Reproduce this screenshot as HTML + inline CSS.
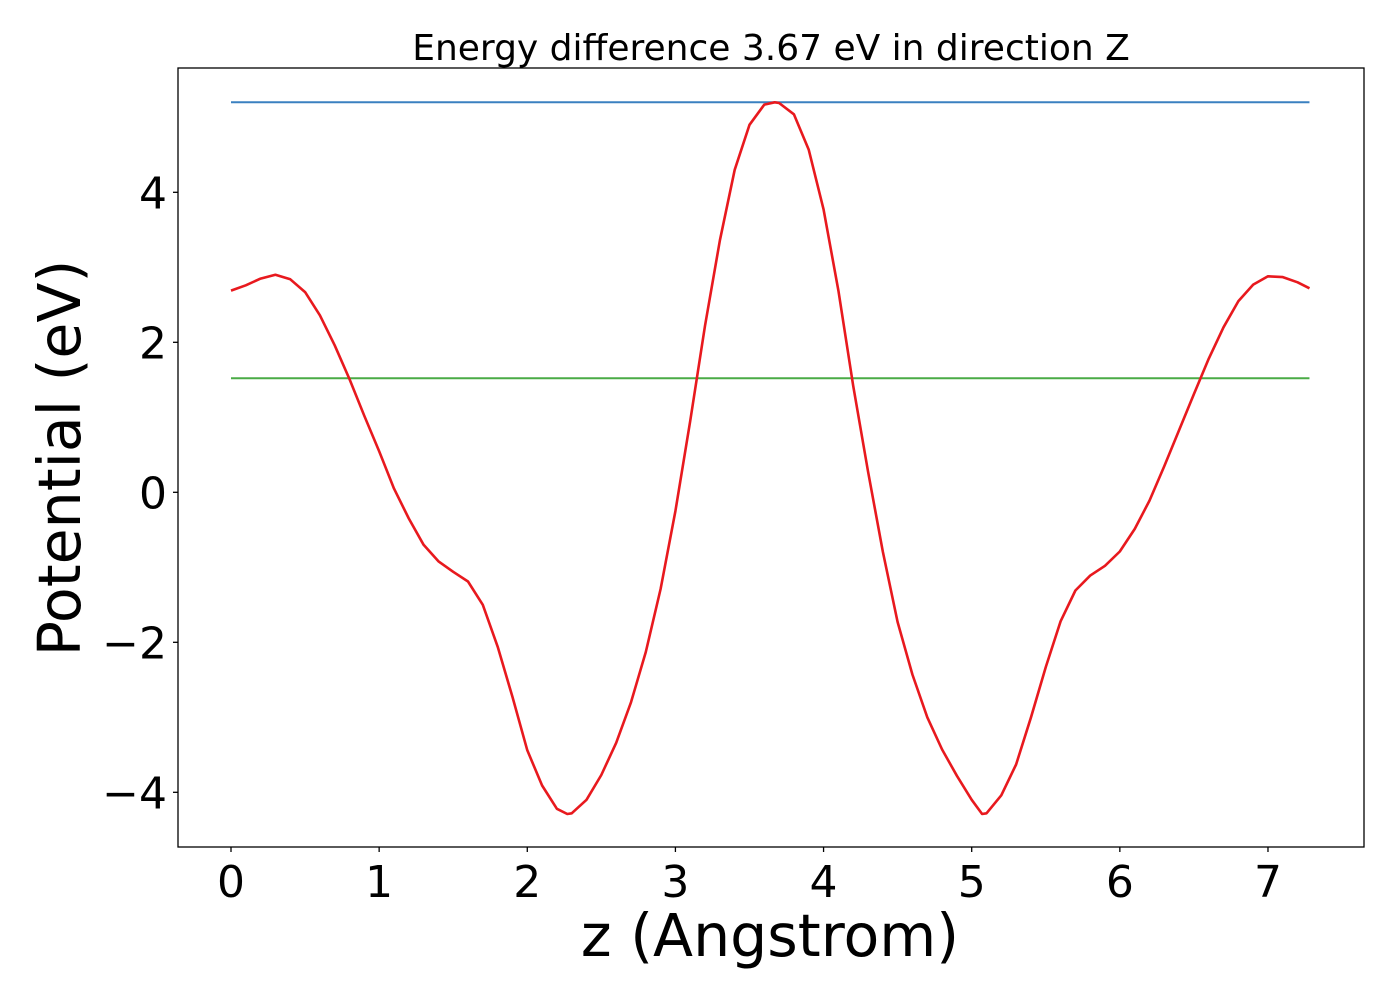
<!DOCTYPE html>
<html><head><meta charset="utf-8"><style>
html,body{margin:0;padding:0;background:#fff;width:1400px;height:1000px;overflow:hidden}
svg text{font-family:"DejaVu Sans","Liberation Sans",sans-serif;fill:#000}
</style></head><body>
<svg id="chart" width="1400" height="1000"></svg>
<script>
const xs=[0,0.1,0.2,0.3,0.4,0.5,0.6,0.7,0.8,0.9,1.0,1.1,1.2,1.3,1.4,1.5,1.6,1.7,1.8,1.9,2.0,2.1,2.2,2.27,2.3,2.4,2.5,2.6,2.7,2.8,2.9,3.0,3.1,3.2,3.3,3.4,3.5,3.6,3.67,3.7,3.8,3.9,4.0,4.1,4.2,4.3,4.4,4.5,4.6,4.7,4.8,4.9,5.0,5.07,5.1,5.2,5.3,5.4,5.5,5.6,5.7,5.8,5.9,6.0,6.1,6.2,6.3,6.4,6.5,6.6,6.7,6.8,6.9,7.0,7.1,7.2,7.28];
const potential=[2.69,2.76,2.85,2.9,2.84,2.67,2.36,1.96,1.51,1.02,0.55,0.05,-0.35,-0.70,-0.92,-1.06,-1.19,-1.5,-2.06,-2.73,-3.44,-3.91,-4.22,-4.29,-4.28,-4.1,-3.77,-3.34,-2.8,-2.13,-1.29,-0.25,0.95,2.22,3.36,4.3,4.9,5.17,5.2,5.19,5.04,4.57,3.77,2.69,1.42,0.28,-0.79,-1.73,-2.43,-3.0,-3.43,-3.78,-4.1,-4.29,-4.28,-4.04,-3.63,-3.0,-2.33,-1.72,-1.31,-1.11,-0.98,-0.79,-0.49,-0.11,0.35,0.83,1.31,1.78,2.2,2.55,2.77,2.88,2.87,2.80,2.72];
const maxLevel=5.2;
const avgLevel=1.52;
const xTicks=[0,1,2,3,4,5,6,7];
const yTicks=[-4,-2,0,2,4];
const yTickLabels=["\u22124","\u22122","0","2","4"];

const L=178,R=1364,T=68,B=847;
const X=v=>231+148.14*v;
const Y=v=>492.3-75*v;
const svg=document.getElementById('chart');
const NS='http://www.w3.org/2000/svg';
function mk(tag,attrs){const e=document.createElementNS(NS,tag);for(const k in attrs)e.setAttribute(k,attrs[k]);svg.appendChild(e);return e;}

const x0=X(xs[0]),x1=X(xs[xs.length-1]);
const hb=mk('line',{x1:x0,x2:x1,y1:Y(maxLevel),y2:Y(maxLevel),stroke:'#3a80c0','stroke-width':2});


const hg=mk('line',{x1:x0,x2:x1,y1:Y(avgLevel),y2:Y(avgLevel),stroke:'#4aab46','stroke-width':2});


const pts=xs.map((x,i)=>X(x).toFixed(1)+','+Y(potential[i]).toFixed(1)).join(' ');
const pl=mk('polyline',{points:pts,fill:'none',stroke:'#e8191e','stroke-width':2.6,'stroke-linejoin':'round'});



const fr=mk('rect',{x:L,y:T,width:R-L,height:B-T,fill:'none',stroke:'#000','stroke-width':1.3});



xTicks.forEach(v=>{
  const t=mk('line',{x1:X(v),x2:X(v),y1:B,y2:B+5,stroke:'#000','stroke-width':1.3});
  
  
  const tx=mk('text',{x:X(v),y:B+50,'text-anchor':'middle','font-size':44});
  tx.textContent=String(v);
  
  
});
yTicks.forEach((v,i)=>{
  const t=mk('line',{x1:L-5,x2:L,y1:Y(v),y2:Y(v),stroke:'#000','stroke-width':1.3});
  
  
  const tx=mk('text',{x:L-11,y:Y(v)+16,'text-anchor':'end','font-size':44});
  tx.textContent=yTickLabels[i];
  
  
});
const ti=mk('text',{x:771,y:60,'text-anchor':'middle','font-size':36});
ti.textContent='Energy difference 3.67 eV in direction Z';


const xl=mk('text',{x:770,y:956,'text-anchor':'middle','font-size':58.5});
xl.textContent='z (Angstrom)';


const yl=mk('text',{x:0,y:0,'text-anchor':'middle','font-size':58.5,transform:'translate(80,458) rotate(-90)'});
yl.textContent='Potential (eV)';


</script>
</body></html>
